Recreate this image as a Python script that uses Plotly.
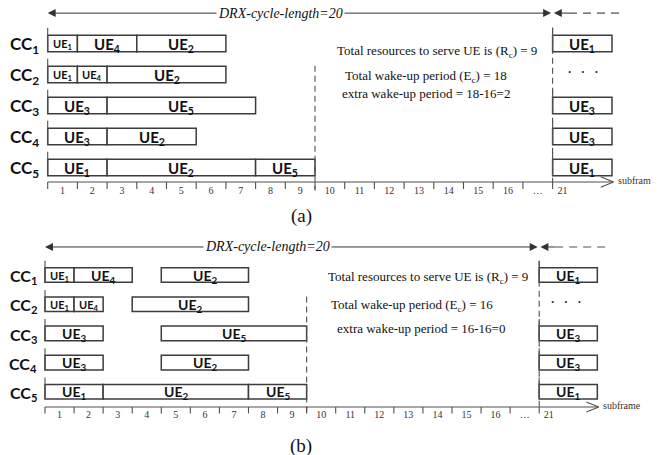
import plotly.graph_objects as go

# ---------------- data ----------------
cc_rows = [1, 2, 3, 4, 5]
cc_names = ["CC<sub>1</sub>", "CC<sub>2</sub>", "CC<sub>3</sub>", "CC<sub>4</sub>", "CC<sub>5</sub>"]

seg_row = [1, 1, 1, 2, 2, 2, 3, 3, 4, 4, 5, 5, 5]
seg_ue = [1, 4, 2, 1, 4, 2, 3, 5, 3, 2, 1, 2, 5]

# panel (a): scheduling before
a_start = [0, 1, 3, 0, 1, 2, 0, 2, 0, 2, 0, 2, 7]
a_end = [1, 3, 6, 1, 2, 6, 2, 7, 2, 5, 2, 7, 9]
# panel (b): scheduling after
b_start = [0, 1, 4, 0, 1, 3, 0, 4, 0, 4, 0, 2, 7]
b_end = [1, 3, 7, 1, 2, 7, 2, 9, 2, 7, 2, 7, 9]

# next DRX cycle (subframe 21)
next_rows = [1, 3, 4, 5]
next_ue = [1, 3, 3, 1]
next_slot = 17
next_len = 2
dots_row = 2

slot_labels = ["1", "2", "3", "4", "5", "6", "7", "8", "9", "10", "11", "12",
               "13", "14", "15", "16", "…", "21"]
wake_end = 9

a_text = ["Total resources to serve UE is (R<sub>c</sub>) = 9",
          "Total wake-up period (E<sub>c</sub>) = 18",
          "extra wake-up period = 18-16=2"]
b_text = ["Total resources to serve UE is (R<sub>c</sub>) = 9",
          "Total wake-up period (E<sub>c</sub>) = 16",
          "extra wake-up period = 16-16=0"]
drx_label = "DRX-cycle-length=20"

# ---------------- layout geometry ----------------
W, H = 666, 455
SERIF = "Liberation Serif"
SANS = "Lato"
BOX = "#3c3c3c"
LINE = "#505050"

panels = [
    dict(tag="(a)", xa="x", ya="y", x0=47.7, ux=29.7, r1=43.5, ry=31.0, dom=[0.5, 1.0],
         start=a_start, end=a_end, texts=a_text, bh=0.54,
         axis_r=5.47, drx_r=0.02, drx_x=7.83, txt_r=[1.27, 2.08, 2.62], txt_x=[9.68, 9.94, 9.84],
         lab_r=5.78, tag_r=6.55, tag_x=8.53, unit="subfram", sub_x=19.15, dots_x=18.03,
         dash9_top=1.72, cc_size=17, ue_big=15),
    dict(tag="(b)", xa="x2", ya="y2", x0=45.0, ux=29.07, r1=275.0, ry=29.2, dom=[0.0, 0.5],
         start=b_start, end=b_end, texts=b_text, bh=0.50,
         axis_r=5.52, drx_r=0.04, drx_x=7.67, txt_r=[1.1, 2.06, 2.82], txt_x=[9.67, 9.77, 9.98],
         lab_r=5.80, tag_r=6.87, tag_x=8.8, unit="subframe", sub_x=19.13, dots_x=17.92,
         dash9_top=1.74, cc_size=16, ue_big=14),
]

fig = go.Figure()
annotations = []
shapes = []
layout_axes = {}

for i, p in enumerate(panels):
    xa, ya = p["xa"], p["ya"]
    xr = [-p["x0"] / p["ux"], (W - p["x0"]) / p["ux"]]
    ptop = H * (1 - p["dom"][1])
    pbot = H * (1 - p["dom"][0])
    yr = [1 + (pbot - p["r1"]) / p["ry"], 1 + (ptop - p["r1"]) / p["ry"]]
    suffix = "" if i == 0 else "2"
    layout_axes["xaxis" + suffix] = dict(range=xr, domain=[0, 1], visible=False, fixedrange=True,
                                         anchor=ya)
    layout_axes["yaxis" + suffix] = dict(range=yr, domain=p["dom"], visible=False, fixedrange=True,
                                         anchor=xa)
    bh = p["bh"]
    axr = p["axis_r"]

    # boxes
    fig.add_trace(go.Bar(
        orientation="h", y=seg_row, x=[e - s for s, e in zip(p["start"], p["end"])],
        base=p["start"], width=bh, xaxis=xa, yaxis=ya,
        marker=dict(color="white", line=dict(color=BOX, width=1.5)),
        hoverinfo="skip", showlegend=False))
    fig.add_trace(go.Bar(
        orientation="h", y=next_rows, x=[next_len] * len(next_rows),
        base=[next_slot] * len(next_rows), width=bh, xaxis=xa, yaxis=ya,
        marker=dict(color="white", line=dict(color=BOX, width=1.5)),
        hoverinfo="skip", showlegend=False))

    # UE labels
    for r, u, s, e in zip(seg_row, seg_ue, p["start"], p["end"]):
        size = 11 if (e - s) <= 1 else p["ue_big"]
        annotations.append(dict(x=(s + e) / 2, y=r + 0.04, xref=xa, yref=ya, showarrow=False,
                                text=f"<b>UE<sub>{u}</sub></b>",
                                font=dict(family=SANS, size=size, color="#111")))
    for r, u in zip(next_rows, next_ue):
        annotations.append(dict(x=next_slot + next_len / 2, y=r + 0.04, xref=xa, yref=ya,
                                showarrow=False, text=f"<b>UE<sub>{u}</sub></b>",
                                font=dict(family=SANS, size=p["ue_big"], color="#111")))
    annotations.append(dict(x=p["dots_x"], y=dots_row - 0.05, xref=xa, yref=ya, showarrow=False,
                            text="·  ·  ·", font=dict(family=SERIF, size=16, color="#222")))

    # CC labels
    for r, n in zip(cc_rows, cc_names):
        annotations.append(dict(x=-0.22, y=r + 0.06, xref=xa, yref=ya, showarrow=False,
                                xanchor="right", text=f"<b>{n}</b>",
                                font=dict(family=SANS, size=p["cc_size"], color="#111")))

    # solid stubs at slot 0 and next slot
    sx, sy = [], []
    for r in cc_rows:
        sx += [0, 0, None]
        sy += [r - bh / 2 - 0.24, r + bh / 2, None]
    for r in next_rows:
        sx += [next_slot, next_slot, None]
        sy += [r - bh / 2 - 0.24, r + bh / 2, None]
    # axis line + ticks
    sx += [0, 19.05, None]
    sy += [axr, axr, None]
    for t in range(0, next_slot + 1):
        sx += [t, t, None]
        sy += [axr, axr + 0.22, None]
    # open chevron arrow
    sx += [18.62, 19.05, 18.62, None]
    sy += [axr - 0.17, axr, axr + 0.17, None]
    fig.add_trace(go.Scatter(x=sx, y=sy, mode="lines", xaxis=xa, yaxis=ya,
                             line=dict(color=LINE, width=1.1), hoverinfo="skip", showlegend=False))

    # dashed lines
    dx = [wake_end, wake_end, None, next_slot, next_slot, None]
    dy = [p["dash9_top"], axr + 0.28, None, cc_rows[0] - bh / 2 - 0.24, axr, None]
    fig.add_trace(go.Scatter(x=dx, y=dy, mode="lines", xaxis=xa, yaxis=ya,
                             line=dict(color=LINE, width=1.1, dash="6px,4px"),
                             hoverinfo="skip", showlegend=False))
    # dashed continuation of DRX arrow
    fig.add_trace(go.Scatter(x=[17.55, 19.3], y=[p["drx_r"], p["drx_r"]], mode="lines",
                             xaxis=xa, yaxis=ya,
                             line=dict(color=LINE, width=1.1, dash="8px,6px"),
                             hoverinfo="skip", showlegend=False))

    # tick labels
    fig.add_trace(go.Scatter(
        x=[k + 0.5 for k in range(len(slot_labels) - 1)] + [next_slot + 0.33],
        y=[p["lab_r"]] * len(slot_labels), text=slot_labels, mode="text",
        xaxis=xa, yaxis=ya, textfont=dict(family=SERIF, size=10, color="#333"),
        hoverinfo="skip", showlegend=False))

    # DRX arrow
    annotations.append(dict(x=0, y=p["drx_r"], ax=next_slot, ay=p["drx_r"], xref=xa, yref=ya,
                            axref=xa, ayref=ya, showarrow=True, arrowhead=2, arrowside="end+start",
                            arrowsize=1.6, arrowwidth=1, arrowcolor="#333", text=""))
    annotations.append(dict(x=next_slot + 0.04, y=p["drx_r"], ax=17.6, ay=p["drx_r"],
                            xref=xa, yref=ya, axref=xa, ayref=ya, showarrow=True, arrowhead=2,
                            arrowsize=1.6, arrowwidth=1, arrowcolor="#333", text=""))
    annotations.append(dict(x=p["drx_x"], y=p["drx_r"], xref=xa, yref=ya, showarrow=False,
                            text=f"<i>{drx_label}</i>", bgcolor="white", borderpad=1,
                            font=dict(family=SERIF, size=14, color="#111")))

    # summary texts
    for t, r, x in zip(p["texts"], p["txt_r"], p["txt_x"]):
        annotations.append(dict(x=x, y=r, xref=xa, yref=ya, showarrow=False, xanchor="left",
                                text=t, font=dict(family=SERIF, size=13, color="#111")))

    # unit text and panel tag
    annotations.append(dict(x=p["sub_x"], y=axr - 0.05, xref=xa, yref=ya, showarrow=False,
                            xanchor="left", text=p["unit"],
                            font=dict(family=SERIF, size=10, color="#333")))
    annotations.append(dict(x=p["tag_x"], y=p["tag_r"], xref=xa, yref=ya, showarrow=False,
                            text=p["tag"], font=dict(family=SERIF, size=19, color="#111")))

fig.update_layout(
    width=W, height=H, margin=dict(l=0, r=0, t=0, b=0),
    paper_bgcolor="white", plot_bgcolor="white", barmode="overlay",
    annotations=annotations, showlegend=False, **layout_axes)

fig.write_html("out.html")
